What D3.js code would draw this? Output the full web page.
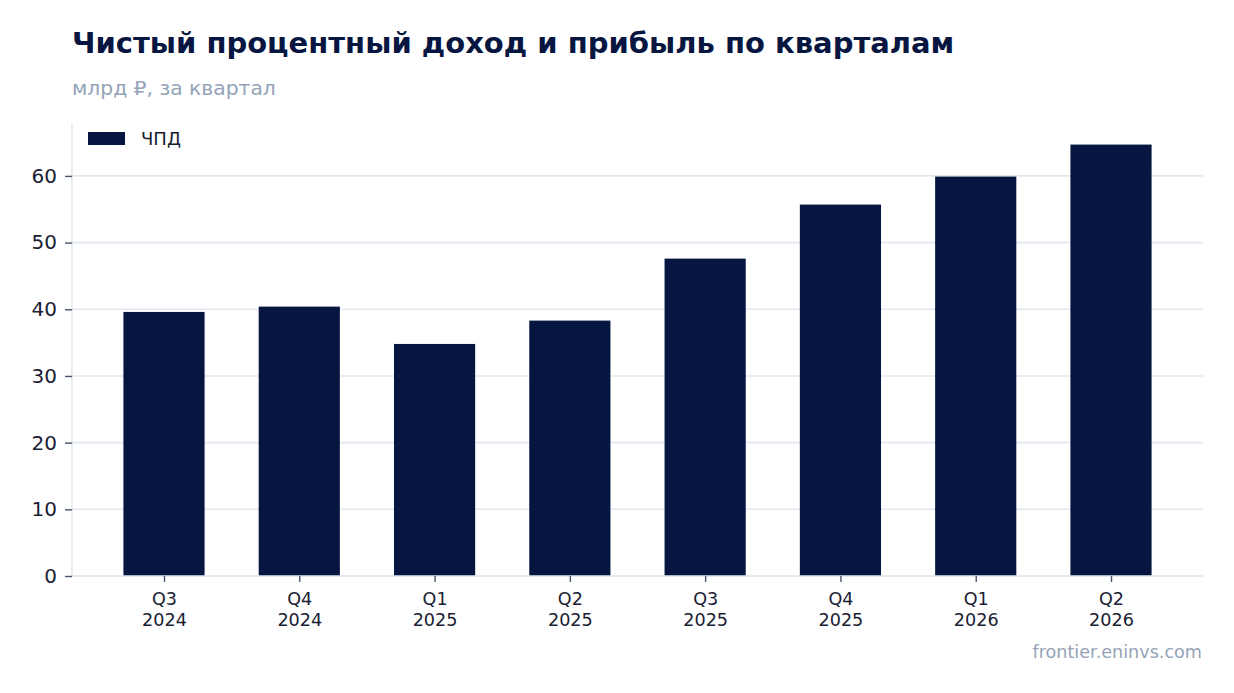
<!DOCTYPE html>
<html>
<head>
<meta charset="utf-8">
<script src="https://cdn.jsdelivr.net/npm/d3@7"></script>
<style>
  body { margin: 0; background: #fff; }
  svg text { font-family: "DejaVu Sans", sans-serif; }
</style>
</head>
<body>
<svg id="chart" width="1234" height="693"></svg>
<script>
const quarters = ["Q3", "Q4", "Q1", "Q2", "Q3", "Q4", "Q1", "Q2"];
const years = ["2024", "2024", "2025", "2025", "2025", "2025", "2026", "2026"];
const nii = [39.6, 40.4, 34.8, 38.3, 47.6, 55.7, 59.9, 64.7];
const yTicks = [0, 10, 20, 30, 40, 50, 60];

const svg = d3.select('#chart');
const plotLeft = 72, plotRight = 1203, plotTop = 123, plotBottom = 576;

const x = d3.scaleLinear()
    .domain([-0.68, nii.length - 1 + 0.68])
    .range([plotLeft, plotRight]);
const y = d3.scaleLinear()
    .domain([0, d3.max(nii) * 1.05])
    .range([plotBottom, plotTop]);
const barW = x(0.6) - x(0);

// title
svg.append('text')
    .attr('x', 72).attr('y', 53)
    .attr('font-size', 29).attr('font-weight', 'bold')
    .attr('fill', '#061641')
    .text('Чистый процентный доход и прибыль по кварталам');
svg.append('text')
    .attr('x', 72).attr('y', 95)
    .attr('font-size', 20.3)
    .attr('fill', '#94a3b8')
    .text('млрд ₽, за квартал');

// grid
svg.append('g').selectAll('line')
    .data(yTicks)
    .join('line')
    .attr('x1', plotLeft).attr('x2', plotRight)
    .attr('y1', d => y(d)).attr('y2', d => y(d))
    .attr('stroke', '#e2e8f0').attr('stroke-width', 1.6);

// bars
svg.append('g').selectAll('rect')
    .data(nii)
    .join('rect')
    .attr('x', (d, i) => x(i) - barW / 2)
    .attr('width', barW)
    .attr('y', d => y(d))
    .attr('height', d => y(0) - y(d))
    .attr('fill', '#061641');

// spines
svg.append('line')
    .attr('x1', plotLeft).attr('x2', plotLeft).attr('y1', plotTop).attr('y2', plotBottom)
    .attr('stroke', '#e2e8f0').attr('stroke-width', 1.6);
svg.append('line')
    .attr('x1', plotLeft).attr('x2', plotRight).attr('y1', plotBottom).attr('y2', plotBottom)
    .attr('stroke', '#e2e8f0').attr('stroke-width', 1.6);

// y axis
const yAxis = d3.axisLeft(y).tickValues(yTicks).tickSize(7).tickPadding(8);
const yg = svg.append('g').attr('transform', `translate(${plotLeft},0)`).call(yAxis);
yg.select('.domain').remove();
yg.selectAll('.tick line').attr('stroke', '#4a5568').attr('stroke-width', 1.4);
yg.selectAll('.tick text')
    .attr('font-size', 20).attr('fill', '#1a2033')
    .attr('font-family', '"DejaVu Sans", sans-serif');

// x axis
const xAxis = d3.axisBottom(x).tickValues(d3.range(nii.length)).tickSize(6).tickFormat(() => '');
const xg = svg.append('g').attr('transform', `translate(0,${plotBottom})`).call(xAxis);
xg.select('.domain').remove();
xg.selectAll('.tick line').attr('stroke', '#4a5568').attr('stroke-width', 1.4);
xg.selectAll('.tick').each(function(d, i) {
    const t = d3.select(this).append('text')
        .attr('text-anchor', 'middle')
        .attr('font-size', 17.6).attr('fill', '#1a2033')
        .attr('font-family', '"DejaVu Sans", sans-serif');
    t.append('tspan').attr('x', 0).attr('y', 28.5).text(quarters[i]);
    t.append('tspan').attr('x', 0).attr('y', 49.5).text(years[i]);
});

// legend
svg.append('rect')
    .attr('x', 88).attr('y', 132).attr('width', 37).attr('height', 13)
    .attr('fill', '#061641');
svg.append('text')
    .attr('x', 141).attr('y', 145)
    .attr('font-size', 18).attr('fill', '#1a2033')
    .text('ЧПД');

// footer
svg.append('text')
    .attr('x', 1202).attr('y', 658)
    .attr('text-anchor', 'end')
    .attr('font-size', 17.6).attr('fill', '#94a3b8')
    .text('frontier.eninvs.com');
</script>
</body>
</html>
